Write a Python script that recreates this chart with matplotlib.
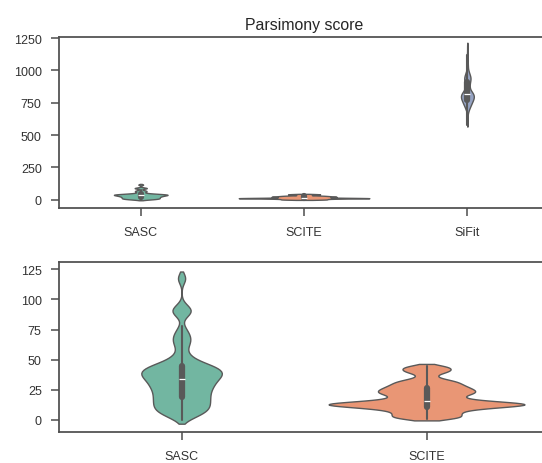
import matplotlib

matplotlib.use("Agg")
import matplotlib.pyplot as plt
import numpy as np
import pandas as pd
import seaborn as sns

# parsimony scores, stored as value -> number of runs with that score
SASC_SCORES = list(range(0, 57)) + list(range(57, 79)) + list(range(86, 97)) + list(range(115, 121))
SASC_COUNTS = ([1, 2, 3, 3, 4, 5, 5, 6, 6, 6, 6]            # 0-10
               + [6] * 16                                  # 11-26
               + [7] * 8                                   # 27-34
               + [9] * 9                                   # 35-43
               + [8, 7, 6, 5, 4, 3, 3, 2, 2, 2, 2, 1, 1]   # 44-56
               + [1, 1, 1, 1, 1] + [2] * 11 + [1] * 6      # 57-78
               + [1, 2, 2, 3, 3, 3, 3, 2, 2, 1, 1]         # 86-96
               + [1, 1, 2, 2, 1, 1])                       # 115-120

SCITE_SCORES = list(range(1, 46))
SCITE_COUNTS = ([5, 5, 4, 4, 4, 4, 4, 4, 6, 7, 9, 13, 16, 13, 8, 6, 5, 4, 4, 4, 5,
                 6, 6, 6, 6, 5, 5, 5, 4, 4, 4, 4, 3, 2, 1, 1, 1, 1, 2, 3, 3, 3, 3,
                 3, 3])

SIFIT_SCORES = ([580, 600, 620, 640, 660] + list(range(680, 1000, 10))
                + list(range(1000, 1201, 20)))
SIFIT_COUNTS = ([1, 1, 1, 1, 1]
                + [2, 2, 3, 4, 5, 6, 7, 8, 9, 10, 11, 12, 12, 12, 11, 9, 7, 5,
                   4, 4, 4, 4, 4, 5, 5, 6, 6, 6, 5, 4, 3, 3]
                + [2, 2, 2, 1, 2, 1, 2, 1, 1, 1, 1])

TOOLS = ["SASC", "SCITE", "SiFit"]


def frame(names, scores, counts):
    rows = []
    for name, s, c in zip(names, scores, counts):
        vals = np.repeat(s, c)
        rows.append(pd.DataFrame({"tool": name, "score": vals}))
    return pd.concat(rows, ignore_index=True)


sns.set_style("ticks")
plt.rcParams["font.family"] = ["Liberation Sans", "DejaVu Sans"]
plt.rcParams["axes.edgecolor"] = "0.3"
plt.rcParams["axes.linewidth"] = 1.25

df_all = frame(TOOLS, [SASC_SCORES, SCITE_SCORES, SIFIT_SCORES],
               [SASC_COUNTS, SCITE_COUNTS, SIFIT_COUNTS])
df_two = df_all[df_all["tool"] != "SiFit"]

fig = plt.figure(figsize=(5.42, 4.64), dpi=100)
ax1 = fig.add_axes([0.109, 0.549, 0.904, 0.369])
ax2 = fig.add_axes([0.109, 0.067, 0.904, 0.366])

kw = dict(x="tool", y="score", hue="tool", palette="Set2", legend=False,
          bw_method=0.16, cut=0.8, inner="box", linewidth=1.0,
          density_norm="area", common_norm=True)
sns.violinplot(data=df_all, order=TOOLS, hue_order=TOOLS, ax=ax1, **kw)
sns.violinplot(data=df_two, order=TOOLS[:2], hue_order=TOOLS[:2], ax=ax2, **kw)

ax1.set_title("Parsimony score", fontsize=11.4, color="0.15")
ax1.set_ylim(-65, 1258)
ax1.set_yticks([0, 250, 500, 750, 1000, 1250])
ax2.set_ylim(-10, 131)
ax2.set_yticks([0, 25, 50, 75, 100, 125])
for ax in (ax1, ax2):
    ax.set_xlabel("")
    ax.set_ylabel("")
    ax.tick_params(axis="both", labelsize=9, length=5.5, width=1.1,
                   color="0.3", labelcolor="0.2")
    ax.tick_params(axis="y", pad=7)
    ax.tick_params(axis="x", pad=7.5)

fig.savefig("out.png", dpi=100, facecolor="white")
